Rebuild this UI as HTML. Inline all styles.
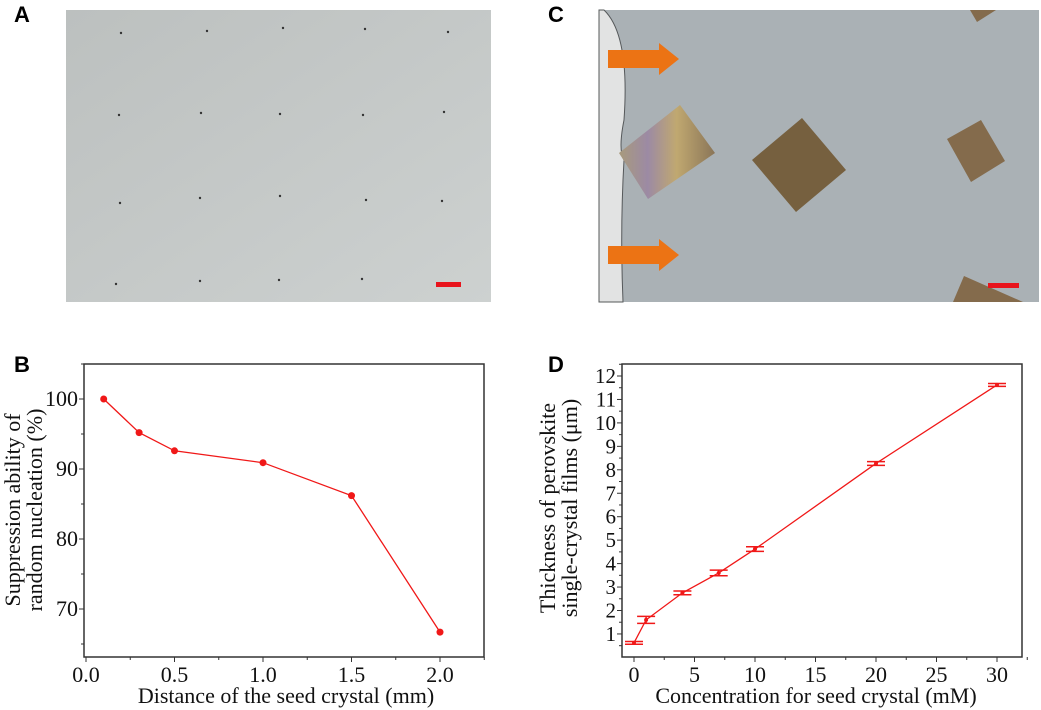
<!DOCTYPE html>
<html><head><meta charset="utf-8"><style>
body{margin:0;background:#fff;width:1041px;height:710px;overflow:hidden;font-family:"Liberation Serif",serif}
.lbl{position:absolute;font:bold 22px "Liberation Sans",sans-serif}
</style></head><body>
<div class="lbl" style="left:14px;top:2px">A</div>
<div class="lbl" style="left:14px;top:352px">B</div>
<div class="lbl" style="left:548px;top:2px">C</div>
<div class="lbl" style="left:548px;top:352px">D</div>
<svg width="1041" height="710" style="position:absolute;left:0;top:0" xmlns="http://www.w3.org/2000/svg">
<defs>
<linearGradient id="ga" x1="0" y1="0" x2="1" y2="1"><stop offset="0" stop-color="#bcc0bf"/><stop offset="1" stop-color="#cdd1d0"/></linearGradient>
<linearGradient id="rain" x1="0" y1="0" x2="1" y2="0"><stop offset="0" stop-color="#a89a7c"/><stop offset="0.3" stop-color="#9c8aa4"/><stop offset="0.6" stop-color="#c0a870"/><stop offset="1" stop-color="#8a7558"/></linearGradient>
</defs>
<g>
<rect x="66" y="10" width="425" height="292" fill="url(#ga)"/>
<g fill="#333">
<circle cx="121" cy="33" r="1.2"/><circle cx="207" cy="31" r="1.2"/><circle cx="283" cy="28" r="1.2"/><circle cx="365" cy="29" r="1.2"/><circle cx="448" cy="32" r="1.2"/>
<circle cx="119" cy="115" r="1.2"/><circle cx="201" cy="113" r="1.2"/><circle cx="280" cy="114" r="1.2"/><circle cx="363" cy="115" r="1.2"/><circle cx="444" cy="112" r="1.2"/>
<circle cx="120" cy="203" r="1.2"/><circle cx="200" cy="198" r="1.2"/><circle cx="280" cy="196" r="1.2"/><circle cx="366" cy="200" r="1.2"/><circle cx="442" cy="201" r="1.2"/>
<circle cx="116" cy="284" r="1.2"/><circle cx="200" cy="281" r="1.2"/><circle cx="279" cy="280" r="1.2"/><circle cx="362" cy="279" r="1.2"/>
</g>
<rect x="436" y="282" width="25" height="5" fill="#e8141c"/>
</g>
<g>
<rect x="599" y="10" width="440" height="292" fill="#aab1b5"/>
<path d="M599,10 L604,10 Q630,35 624,120 Q618,150 624,160 Q620,230 623,302 L599,302 Z" fill="#e2e3e3" stroke="#55585a" stroke-width="1"/>
<polygon points="619,153 680,105 715,153 648,199" fill="url(#rain)"/>
<polygon points="752,160 802,118 846,170 796,212" fill="#76603f"/>
<polygon points="947,139 981,120 1005,161 971,182" fill="#846b4c"/>
<polygon points="970,10 996,10 977,22" fill="#846b4c"/>
<polygon points="964,276 1023,302 953,302" fill="#846b4c"/>
<rect x="988" y="283" width="31" height="5" fill="#e8141c"/>
<polygon points="608,50 659,50 659,43 679,59 659,75 659,68 608,68" fill="#ec7314"/>
<polygon points="608,246 659,246 659,239 679,255 659,271 659,264 608,264" fill="#ec7314"/>
</g>
<g id="chartB"></g>
<g id="chartD"></g>
</svg>
<script>
const bX=[0.1,0.3,0.5,1.0,1.5,2.0];
const bY=[100,95.2,92.6,90.9,86.2,66.7];
const bXTicks=["0.0","0.5","1.0","1.5","2.0"];
const bYTicks=["70","80","90","100"];
const dX=[0,1,4,7,10,20,30];
const dY=[0.62,1.6,2.75,3.6,4.62,8.27,11.62];
const dErr=[0.06,0.15,0.08,0.12,0.1,0.08,0.06];
const dXTicks=["0","5","10","15","20","25","30"];
const dYTicks=["1","2","3","4","5","6","7","8","9","10","11","12"];
const NS="http://www.w3.org/2000/svg";
function mk(p,t,a){const e=document.createElementNS(NS,t);for(const k in a)e.setAttribute(k,a[k]);p.appendChild(e);return e;}
function txt(p,x,y,s,a,size,rot){const e=mk(p,'text',{x:x,y:y,'text-anchor':a,'font-size':size,'font-family':'Liberation Serif, serif',fill:'#111'});if(rot)e.setAttribute('transform','rotate(-90 '+x+' '+y+')');e.textContent=s;return e;}
(function(){
const g=document.getElementById('chartB');
const L=84,R=484,T=364,B=657;
const sx=v=>86+v*177, sy=v=>399+(100-v)*7;
const box=mk(g,'rect',{x:L,y:T,width:R-L,height:B-T,fill:'none',stroke:'#333','stroke-width':1.5});

for(let i=0;i<=9;i++){const v=i*0.25,x=sx(v);mk(g,'line',{x1:x,y1:B,x2:x,y2:B+(i%2?3:5),stroke:'#333'});}
bXTicks.forEach(s=>{const t=txt(g,sx(+s),B+25,s,'middle',22);});
for(let v=65;v<=105;v+=5){mk(g,'line',{x1:L,y1:sy(v),x2:L-(v%10?3:5),y2:sy(v),stroke:'#333'});}
bYTicks.forEach(s=>{const t=txt(g,L-6,sy(+s)+7,s,'end',22);});
const xt=txt(g,286,703,'Distance of the seed crystal (mm)','middle',22);
const y1=txt(g,20,510,'Suppression ability of','middle',22,true);
const y2=txt(g,42,510,'random nucleation (%)','middle',22,true);
const ln=mk(g,'polyline',{points:bX.map((v,i)=>sx(v)+','+sy(bY[i])).join(' '),fill:'none',stroke:'#f01818','stroke-width':1.3});

bX.forEach((v,i)=>{const c=mk(g,'circle',{cx:sx(v),cy:sy(bY[i]),r:3.5,fill:'#f01818'});});
})();
(function(){
const g=document.getElementById('chartD');
const L=622,R=1022,T=364,B=657;
const sx=v=>634+v*12.1, sy=v=>376+(12-v)*23.45;
const box=mk(g,'rect',{x:L,y:T,width:R-L,height:B-T,fill:'none',stroke:'#333','stroke-width':1.5});

for(let v=0;v<=32.5;v+=2.5){const x=sx(v);mk(g,'line',{x1:x,y1:B,x2:x,y2:B+(v%5?3:5),stroke:'#333'});}
dXTicks.forEach(s=>{const t=txt(g,sx(+s),B+25,s,'middle',22);});
for(let v=0.5;v<=12.5;v+=0.5){mk(g,'line',{x1:L,y1:sy(v),x2:L-(v%1?3:5),y2:sy(v),stroke:'#333'});}
dYTicks.forEach(s=>{const t=txt(g,L-6,sy(+s)+7,s,'end',21);});
const xt=txt(g,816,703,'Concentration for seed crystal (mM)','middle',22);
const y1=txt(g,555,508,'Thickness of perovskite','middle',22,true);
const y2=txt(g,577,508,'single-crystal films (μm)','middle',22,true);
const ln=mk(g,'polyline',{points:dX.map((v,i)=>sx(v)+','+sy(dY[i])).join(' '),fill:'none',stroke:'#f01818','stroke-width':1.3});

dX.forEach((v,i)=>{const x=sx(v),y=sy(dY[i]),yt=sy(dY[i]+dErr[i]),yb=sy(dY[i]-dErr[i]);
const e=mk(g,'path',{d:`M${x-9},${yt}H${x+9}M${x-9},${yb}H${x+9}M${x},${yt}V${yb}`,stroke:'#f01818','stroke-width':1.5,fill:'none'});

const c=mk(g,'circle',{cx:x,cy:y,r:2,fill:'#f01818'});

});
})();
</script>
</body></html>
